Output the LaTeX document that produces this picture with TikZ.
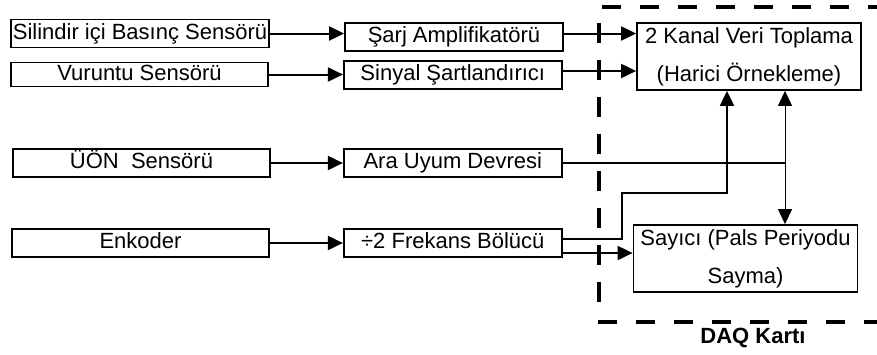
\documentclass[tikz,border=0pt]{standalone}
\usepackage{fontspec}
\setmainfont{Liberation Sans}
\usetikzlibrary{arrows.meta,positioning}

\begin{document}
\begin{tikzpicture}[
  x=1pt, y=-1pt,
  font=\fontsize{22}{38}\selectfont,
  node distance=74pt,
  box/.style={draw, line width=1.8pt, inner xsep=2pt, inner ysep=0pt, minimum height=28pt, text height=15pt, text depth=4pt},
  sensor/.style={box, minimum width=257pt},
  stage/.style={box, minimum width=218pt},
  unit/.style={draw, line width=1.8pt, align=center, minimum width=224pt, minimum height=67pt},
  arr/.style={-{Triangle[length=15pt,width=14pt]}, line width=2pt},
  tharr/.style={{Triangle[length=15pt,width=14pt]}-{Triangle[length=15pt,width=14pt]}, line width=1pt},
  hframe/.style={line width=4pt, dash pattern=on 19pt off 19pt},
  vframe/.style={line width=4pt, dash pattern=on 20pt off 17pt}
]
\useasboundingbox (0,0) rectangle (877,354);

\node[sensor] (silindir) at (140,33.5) {Silindir içi Basınç Sensörü};
\node[sensor, minimum height=24pt] (vuruntu) at (139.5,74.5) {Vuruntu Sensörü};
\node[sensor] (uon) at (141.5,163) {ÜÖN~~Sensörü};
\node[sensor] (enkoder) at (140.5,243) {Enkoder};

\node[stage, right=of silindir, yshift=-3.5pt] (sarj) {Şarj Amplifikatörü};
\node[stage, right=of vuruntu, yshift=-0.5pt] (sinyal) {Sinyal Şartlandırıcı};
\node[stage, right=72pt of uon] (ara) {Ara Uyum Devresi};
\node[stage, right=73pt of enkoder] (frekans) {÷2 Frekans Bölücü};

\node[unit] (veri) at (749,56.5) {2 Kanal Veri Toplama\\(Harici Örnekleme)};
\node[unit] (sayici) at (745.5,258.5) {Sayıcı (Pals Periyodu\\Sayma)};

\node[font=\fontsize{22}{25}\selectfont\bfseries] (daq) at (753,338) {DAQ Kartı};

\coordinate (jn) at (785,163);
\coordinate (k1) at (622,193);
\coordinate (k2) at (727,193);

\draw[arr] (silindir) -- (silindir -| sarj.west);
\draw[arr] (vuruntu) -- (vuruntu -| sinyal.west);
\draw[arr] (uon) -- (ara);
\draw[arr] (enkoder) -- (frekans);

\draw[arr] (silindir -| sarj.east) -- (silindir -| veri.west);
\draw[arr] ([yshift=4pt]sinyal.east) -- ([yshift=4pt]sinyal.east -| veri.west);

\draw[line width=2pt] (ara) -- (jn);
\draw[tharr] (jn |- veri.south) -- (jn |- sayici.north);

\draw[arr] ([yshift=4pt]frekans.east) -| (k1) -- (k2) -- (k2 |- veri.south);
\draw[arr] ([yshift=-10pt]frekans.east) -- ([yshift=-10pt]frekans.east -| sayici.west);

\draw[hframe] (602,7) -- (890,7);
\draw[vframe] (599,23) -- (599,305);
\draw[hframe] (598,322) -- (890,322);
\end{tikzpicture}
\end{document}
